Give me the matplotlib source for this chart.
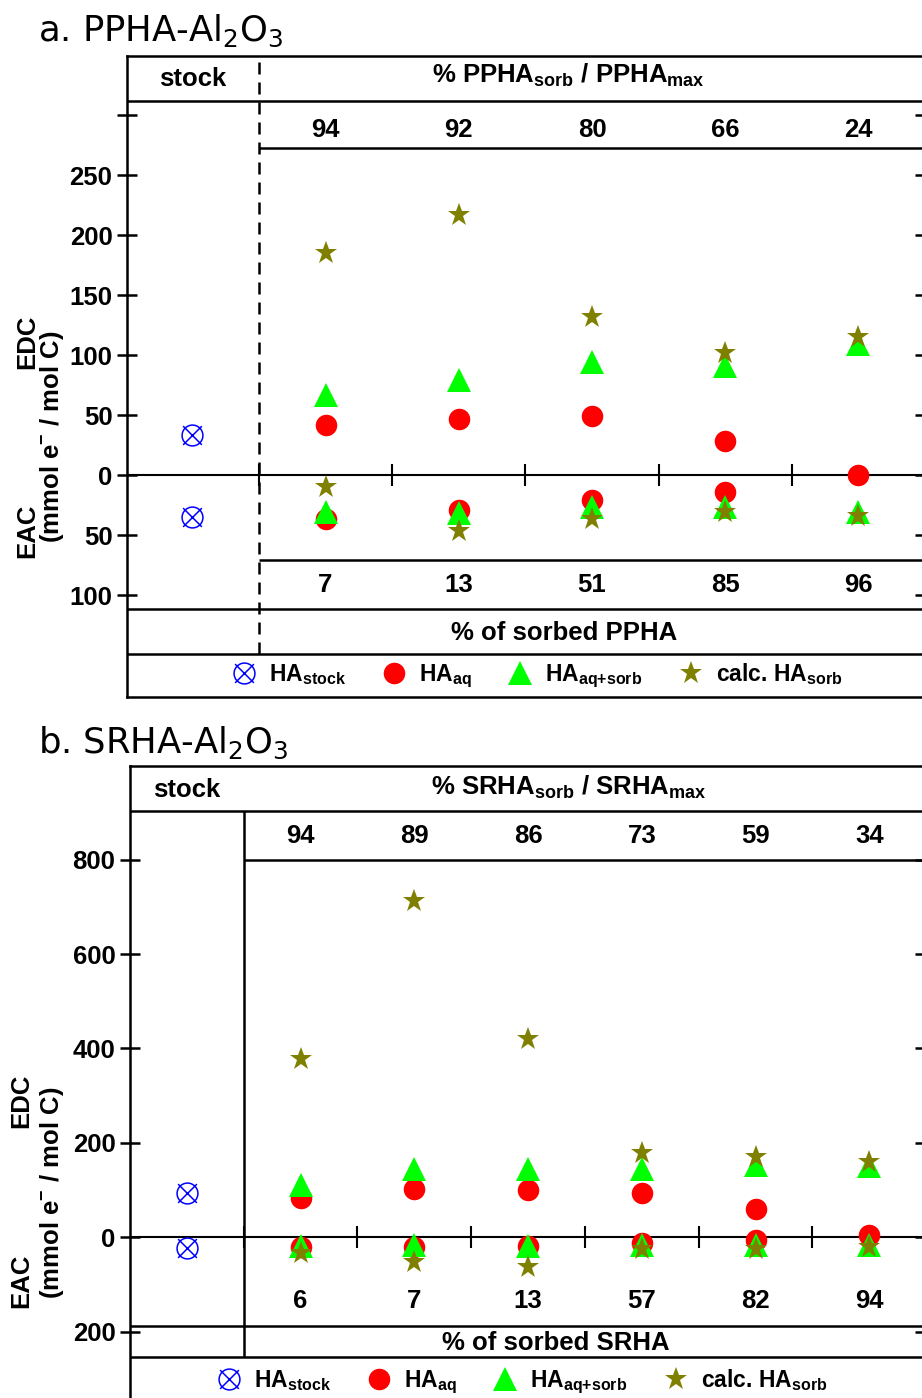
import numpy as np
import matplotlib.pyplot as plt
from matplotlib.path import Path

plt.rcParams['font.family'] = ['Liberation Sans', 'DejaVu Sans']
plt.rcParams['font.weight'] = 'bold'

# ---- a. PPHA-Al2O3 ----
ppha_max_pct = ['94', '92', '80', '66', '24']      # % PPHA_sorb / PPHA_max
ppha_sorbed_pct = ['7', '13', '51', '85', '96']    # % of sorbed PPHA
ppha_stock = [33, 35]                              # EDC, EAC
ppha_aq_edc = [42, 47, 49, 28, 0]
ppha_aq_eac = [37, 29, 21, 14, np.nan]
ppha_tot_edc = [67, 79, 94, 91, 109]
ppha_tot_eac = [31, 32, 27, 27, 31]
ppha_calc_edc = [185, 217, 132, 102, 115]
ppha_calc_eac = [10, 47, 37, 31, 34]

# ---- b. SRHA-Al2O3 ----
srha_max_pct = ['94', '89', '86', '73', '59', '34']
srha_sorbed_pct = ['6', '7', '13', '57', '82', '94']
srha_stock = [93, 23]
srha_aq_edc = [83, 102, 100, 94, 59, 4]
srha_aq_eac = [21, 21, 19, 12, 5, np.nan]
srha_tot_edc = [111, 145, 145, 144, 154, 150]
srha_tot_eac = [19, 17, 18, 16, 17, 17]
srha_calc_edc = [377, 712, 420, 178, 170, 159]
srha_calc_eac = [34, 53, 63, 24, 24, 21]

W, H = 922, 1398
RED, GREEN, OLIVE, BLUE = '#ff0000', '#00ff00', '#808000', '#0000ff'
LW = 1.8
FS = 18.5

# circle with a cross for the stock solution
k = 0.9
cross = Path([(-k, -k), (k, k), (-k, k), (k, -k)],
             [Path.MOVETO, Path.LINETO, Path.MOVETO, Path.LINETO])
otimes = Path.make_compound_path(Path.unit_circle(), cross)

fig = plt.figure(figsize=(W / 100, H / 100), dpi=100)


def add_axes_px(left, top, right, bottom):
    return fig.add_axes([left / W, 1 - bottom / H, (right - left) / W, (bottom - top) / H])


def draw_panel(ax, name, max_pct, sorbed_pct, stock, aq, tot, calc, lay):
    n = len(max_pct)
    cats = np.arange(1, n + 1)
    x0, x1 = lay['xlim']
    ax.set_xlim(x0, x1)
    ax.set_ylim(*lay['ylim'])
    for s in ax.spines.values():
        s.set_linewidth(LW)
    ax.set_xticks([])
    yt = lay['yticks']
    ax.set_yticks(yt)
    ax.set_yticklabels(['' if t in lay['blank'] else str(abs(t)) for t in yt])
    ax.yaxis.set_ticks_position('both')
    ax.tick_params(axis='y', direction='inout', length=15, width=LW,
                   labelsize=FS, pad=3)

    # zero line with separators between samples
    ax.axhline(0, color='k', lw=1.5, zorder=1)
    ax.plot(cats - 0.5, np.zeros(n), ls='none', marker='|', ms=16,
            mew=1.5, color='k', zorder=1)

    # table rules
    ax.hlines(lay['full_rules'], x0, x1, color='k', lw=LW)
    ax.hlines(lay['inner_rules'], 0.5, x1, color='k', lw=LW)
    ax.vlines(0.5, *lay['divider'], color='k', lw=LW, linestyles=lay['divider_ls'])

    # stock, aqueous, aqueous+sorbed, calculated sorbed (EAC drawn below zero)
    h_stock, = ax.plot([0, 0], [stock[0], -stock[1]], ls='none', marker=otimes,
                       ms=15, mfc='none', mec=BLUE, mew=1.1)
    h_aq, = ax.plot(np.r_[cats, cats], np.r_[aq[0], -np.array(aq[1])], 'o',
                    color=RED, ms=15.5, mew=0)
    h_tot, = ax.plot(np.r_[cats, cats], np.r_[tot[0], -np.array(tot[1])], '^',
                     color=GREEN, ms=17, mew=0)
    h_calc, = ax.plot(np.r_[cats, cats], np.r_[calc[0], -np.array(calc[1])], '*',
                      color=OLIVE, ms=17, mew=0)

    # header and footer texts
    ax.text(0, lay['stock_y'], 'stock', ha='center', va='baseline', fontsize=FS)
    ax.text(lay['head_x'], lay['head_y'],
            r'%% %s$_\mathregular{sorb}$ / %s$_\mathregular{max}$' % (name, name),
            ha='center', va='baseline', fontsize=FS)
    for c, t in zip(cats, max_pct):
        ax.text(c, lay['max_y'], t, ha='center', va='baseline', fontsize=FS)
    for c, t in zip(cats, sorbed_pct):
        ax.text(c, lay['sorbed_y'], t, ha='center', va='baseline', fontsize=FS)
    ax.text(lay['foot_x'], lay['foot_y'], '% of sorbed ' + name,
            ha='center', va='baseline', fontsize=FS)

    ax.legend([h_stock, h_aq, h_tot, h_calc],
              [r'HA$_\mathregular{stock}$', r'HA$_\mathregular{aq}$',
               r'HA$_\mathregular{aq{+}sorb}$', r'calc. HA$_\mathregular{sorb}$'],
              loc='center', bbox_to_anchor=(lay['leg_x'], lay['leg_y']),
              bbox_transform=ax.transData, ncol=4, frameon=False,
              handlelength=1.0, handletextpad=0.6, columnspacing=1.6,
              borderpad=0, prop={'size': 16.5, 'weight': 'bold'})


def ylabel_block(x_edc, y_edc, x_unit, y_unit, x_eac, y_eac):
    fig.text(x_edc / W, 1 - y_edc / H, 'EDC', rotation=90, ha='center', va='center', fontsize=FS)
    fig.text(x_unit / W, 1 - y_unit / H, r'(mmol e$^\mathregular{-}$ / mol C)', rotation=90,
             ha='center', va='center', fontsize=FS)
    fig.text(x_eac / W, 1 - y_eac / H, 'EAC', rotation=90, ha='center', va='center', fontsize=FS)


ax_a = add_axes_px(127, 56, 925, 697)
draw_panel(ax_a, 'PPHA', ppha_max_pct, ppha_sorbed_pct, ppha_stock,
           (ppha_aq_edc, ppha_aq_eac), (ppha_tot_edc, ppha_tot_eac),
           (ppha_calc_edc, ppha_calc_eac),
           dict(xlim=(-0.49, 5.5), ylim=(-185, 349.2),
                yticks=[300, 250, 200, 150, 100, 50, 0, -50, -100], blank=[300],
                full_rules=[311.7, -111.7, -149.2], inner_rules=[272.5, -70.8],
                divider=(-149.2, 349.2), divider_ls=(0, (4.8, 3.2)),
                stock_y=324, head_x=2.82, head_y=326.7, max_y=281.7,
                sorbed_y=-97.5, foot_x=2.79, foot_y=-137.5,
                leg_x=2.59, leg_y=-167))

ax_b = add_axes_px(130, 766, 925, 1400)
draw_panel(ax_b, 'SRHA', srha_max_pct, srha_sorbed_pct, srha_stock,
           (srha_aq_edc, srha_aq_eac), (srha_tot_edc, srha_tot_eac),
           (srha_calc_edc, srha_calc_eac),
           dict(xlim=(-0.5, 6.49), ylim=(-345, 998.5),
                yticks=[800, 600, 400, 200, 0, -200], blank=[],
                full_rules=[903, -189, -254], inner_rules=[800],
                divider=(-254, 903), divider_ls='solid',
                stock_y=932.8, head_x=3.36, head_y=939, max_y=835,
                sorbed_y=-150.5, foot_x=3.24, foot_y=-239.6,
                leg_x=2.95, leg_y=-305))

ylabel_block(27, 342, 52, 437, 27, 531)
ylabel_block(21, 1101, 52, 1193, 21, 1281)

fig.text(38 / W, 1 - 41 / H, r'a. PPHA-Al$_\mathregular{2}$O$_\mathregular{3}$',
         family='DejaVu Sans', weight='normal', fontsize=25.5, va='baseline')
fig.text(38 / W, 1 - 753 / H, r'b. SRHA-Al$_\mathregular{2}$O$_\mathregular{3}$',
         family='DejaVu Sans', weight='normal', fontsize=25.5, va='baseline')

fig.savefig('out.png', dpi=100)
